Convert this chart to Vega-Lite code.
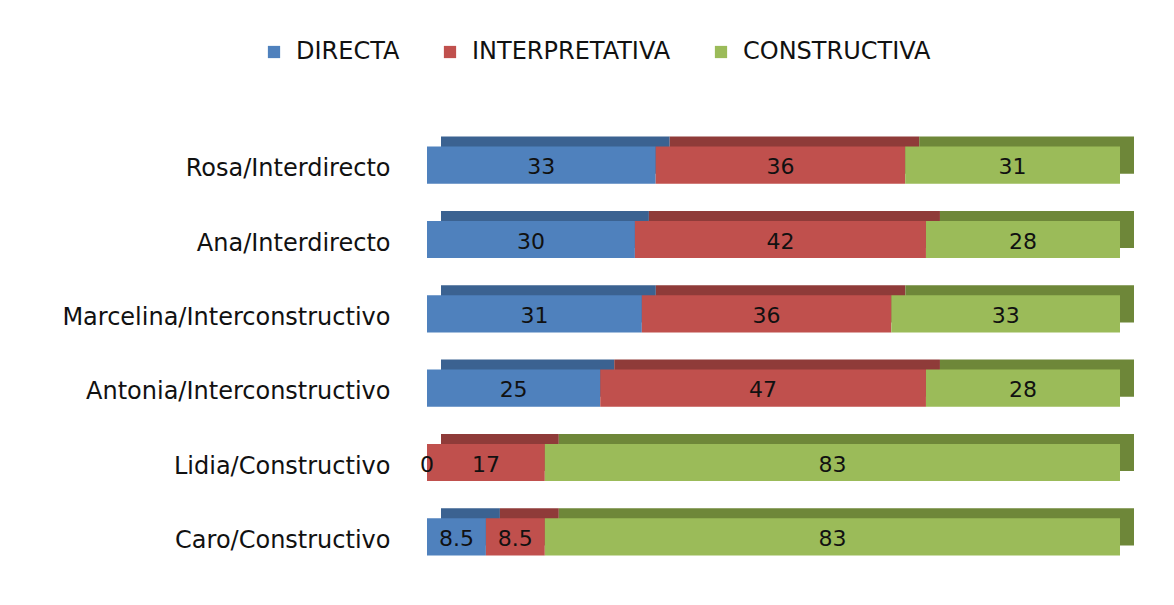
{
  "$schema": "https://vega.github.io/schema/vega-lite/v6.json",
  "autosize": "none",
  "width": 693,
  "height": 446,
  "padding": {"left": 427, "top": 128, "right": 54, "bottom": 31},
  "background": "white",
  "config": {"view": {"stroke": null}, "font": "DejaVu Sans"},
  "data": {"values": [
    {"cat": "Rosa/Interdirecto", "series": "DIRECTA", "ord": 1, "value": 33},
    {"cat": "Rosa/Interdirecto", "series": "INTERPRETATIVA", "ord": 2, "value": 36},
    {"cat": "Rosa/Interdirecto", "series": "CONSTRUCTIVA", "ord": 3, "value": 31},
    {"cat": "Ana/Interdirecto", "series": "DIRECTA", "ord": 1, "value": 30},
    {"cat": "Ana/Interdirecto", "series": "INTERPRETATIVA", "ord": 2, "value": 42},
    {"cat": "Ana/Interdirecto", "series": "CONSTRUCTIVA", "ord": 3, "value": 28},
    {"cat": "Marcelina/Interconstructivo", "series": "DIRECTA", "ord": 1, "value": 31},
    {"cat": "Marcelina/Interconstructivo", "series": "INTERPRETATIVA", "ord": 2, "value": 36},
    {"cat": "Marcelina/Interconstructivo", "series": "CONSTRUCTIVA", "ord": 3, "value": 33},
    {"cat": "Antonia/Interconstructivo", "series": "DIRECTA", "ord": 1, "value": 25},
    {"cat": "Antonia/Interconstructivo", "series": "INTERPRETATIVA", "ord": 2, "value": 47},
    {"cat": "Antonia/Interconstructivo", "series": "CONSTRUCTIVA", "ord": 3, "value": 28},
    {"cat": "Lidia/Constructivo", "series": "DIRECTA", "ord": 1, "value": 0},
    {"cat": "Lidia/Constructivo", "series": "INTERPRETATIVA", "ord": 2, "value": 17},
    {"cat": "Lidia/Constructivo", "series": "CONSTRUCTIVA", "ord": 3, "value": 83},
    {"cat": "Caro/Constructivo", "series": "DIRECTA", "ord": 1, "value": 8.5},
    {"cat": "Caro/Constructivo", "series": "INTERPRETATIVA", "ord": 2, "value": 8.5},
    {"cat": "Caro/Constructivo", "series": "CONSTRUCTIVA", "ord": 3, "value": 83}
  ]},
  "transform": [
    {"stack": "value", "groupby": ["cat"], "sort": [{"field": "ord", "order": "ascending"}], "as": ["v0", "v1"]},
    {"calculate": "(datum.v0 + datum.v1) / 2", "as": "mid"}
  ],
  "layer": [
    {
      "mark": {"type": "bar", "xOffset": 14, "x2Offset": 14, "yOffset": -10, "y2Offset": -10},
      "encoding": {
        "y": {
          "field": "cat", "type": "nominal",
          "sort": ["Rosa/Interdirecto", "Ana/Interdirecto", "Marcelina/Interconstructivo", "Antonia/Interconstructivo", "Lidia/Constructivo", "Caro/Constructivo"],
          "scale": {"paddingInner": 0.5, "paddingOuter": 0.25},
          "axis": {"title": null, "ticks": false, "domain": false, "labelPadding": 37, "labelOffset": 4, "labelFontSize": 24, "labelColor": "#111111", "labelFont": "DejaVu Sans", "labelLimit": 500}
        },
        "x": {"field": "v0", "type": "quantitative", "scale": {"domain": [0, 100]}, "axis": null},
        "x2": {"field": "v1"},
        "color": {"field": "series", "type": "nominal", "scale": {"domain": ["DIRECTA", "INTERPRETATIVA", "CONSTRUCTIVA"], "range": ["#3B6291", "#8F3B39", "#6E8739"]}, "legend": null}
      }
    },
    {
      "mark": {"type": "bar"},
      "encoding": {
        "y": {"field": "cat", "type": "nominal", "sort": ["Rosa/Interdirecto", "Ana/Interdirecto", "Marcelina/Interconstructivo", "Antonia/Interconstructivo", "Lidia/Constructivo", "Caro/Constructivo"]},
        "x": {"field": "v0", "type": "quantitative"},
        "x2": {"field": "v1"},
        "color": {
          "field": "series", "type": "nominal",
          "scale": {"domain": ["DIRECTA", "INTERPRETATIVA", "CONSTRUCTIVA"], "range": ["#4F81BD", "#C0504D", "#9BBB59"]},
          "legend": {"title": null, "orient": "none", "direction": "horizontal", "legendX": -165, "legendY": -88, "symbolType": "square", "symbolSize": 150, "symbolStrokeWidth": 0, "labelFontSize": 24, "labelFont": "DejaVu Sans", "labelColor": "#111111", "labelOffset": 10, "labelLimit": 400, "columnPadding": 38}
        }
      }
    },
    {
      "mark": {"type": "text", "fontSize": 22, "font": "DejaVu Sans", "color": "#111111", "dy": 2},
      "encoding": {
        "y": {"field": "cat", "type": "nominal", "sort": ["Rosa/Interdirecto", "Ana/Interdirecto", "Marcelina/Interconstructivo", "Antonia/Interconstructivo", "Lidia/Constructivo", "Caro/Constructivo"]},
        "x": {"field": "mid", "type": "quantitative"},
        "text": {"field": "value", "type": "quantitative"}
      }
    }
  ],
  "resolve": {"scale": {"color": "independent"}}
}
